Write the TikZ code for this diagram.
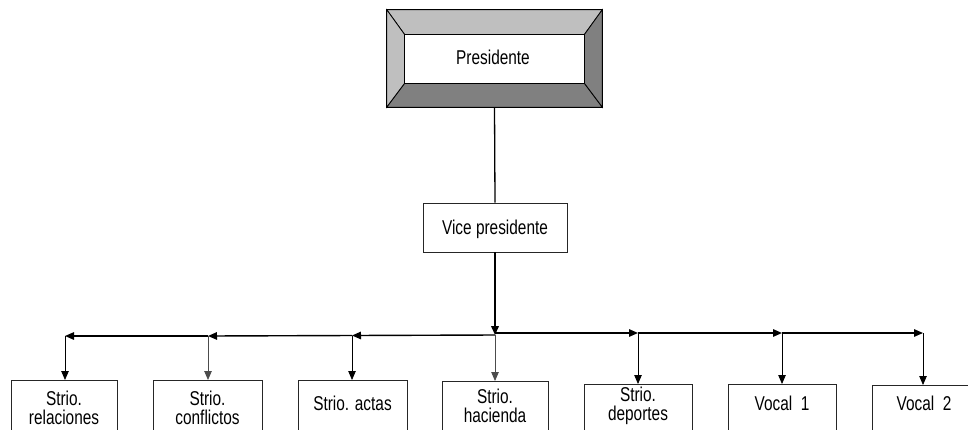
\documentclass[tikz,border=0pt]{standalone}
\usepackage{fontspec}
\setmainfont[FakeStretch=0.77]{Liberation Sans}
\usetikzlibrary{arrows.meta}
\begin{document}
\begin{tikzpicture}[x=1pt,y=-1pt,
  every node/.style={font=\fontsize{20}{19}\selectfont},
  box/.style={draw=black!85, line width=0.8pt, fill=white, inner sep=0pt},
  lbl/.style={inner sep=0pt, align=center},
  tip/.style={-{Triangle[length=9pt,width=7.5pt]}},
  hline/.style={line width=1.4pt},
  drop/.style={line width=0.8pt}]
\useasboundingbox (0,0) rectangle (968,429);
\clip (0,0) rectangle (968,429);
% Presidente bevelled box
\node[inner sep=0pt, minimum width=215pt, minimum height=97pt] (pres) at (494.5,58.5) {};
\node[inner sep=0pt, minimum width=179pt, minimum height=48pt] (presin) at (494.5,59) {};
\fill[gray!50!white, draw=black, line width=0.8pt] (pres.north west) -- (pres.north east) -- (presin.north east) -- (presin.north west) -- cycle;
\fill[gray!50!white, draw=black, line width=0.8pt] (pres.north west) -- (presin.north west) -- (presin.south west) -- (pres.south west) -- cycle;
\fill[black!50, draw=black, line width=0.8pt] (pres.north east) -- (pres.south east) -- (presin.south east) -- (presin.north east) -- cycle;
\fill[black!50, draw=black, line width=0.8pt] (pres.south west) -- (presin.south west) -- (presin.south east) -- (pres.south east) -- cycle;
\draw[black, line width=1pt] (pres.north west) rectangle (pres.south east);
\draw[black, line width=1pt, fill=white] (presin.north west) rectangle (presin.south east);
\node[lbl, anchor=base] (prest) at (493,64.5) {Presidente};
% Vice presidente
\node[box, minimum width=144pt, minimum height=49pt] (vp) at (495,227.5) {};
\node[lbl, anchor=base] (vpt) at (495,234) {Vice presidente};
% bottom boxes
\node[box, anchor=north, minimum width=106pt, minimum height=60pt] (b1) at (64,380) {};
\node[box, anchor=north, minimum width=109pt, minimum height=60pt] (b2) at (207.5,380) {};
\node[box, anchor=north, minimum width=109pt, minimum height=60pt] (b3) at (352.5,380) {};
\node[box, anchor=north, minimum width=106pt, minimum height=60pt] (b4) at (495,381) {};
\node[box, anchor=north, minimum width=108pt, minimum height=60pt] (b5) at (638,384) {};
\node[box, anchor=north, minimum width=108pt, minimum height=60pt] (b6) at (782,384) {};
\node[box, anchor=north, minimum width=104pt, minimum height=60pt] (b7) at (924,385) {};
\node[lbl, anchor=north] (t1) at (64,390.5) {Strio.\\relaciones};
\node[lbl, anchor=north] (t2) at (207.5,390.5) {Strio.\\conflictos};
\node[lbl, anchor=base] (t3) at (352.5,410) {Strio. actas};
\node[lbl, anchor=north] (t4) at (495,389) {Strio.\\hacienda};
\node[lbl, anchor=north] (t5) at (638,386.5) {Strio.\\deportes};
\node[lbl, anchor=base] (t6) at (782,410) {Vocal\ \ 1};
\node[lbl, anchor=base] (t7) at (924,410) {Vocal\ \ 2};
% junction coordinates
\coordinate (j) at (495,335);
\coordinate (l3) at (352,335.5);
\coordinate (l2) at (208,336);
\coordinate (l1) at (65,336);
\coordinate (jr) at (495,333);
\coordinate (r1) at (638,333);
\coordinate (r2) at (782,333);
\coordinate (r3) at (923,333);
% connectors
\draw[line width=1.3pt] (pres.south) -- (vp.north);
\draw[tip, line width=2pt] (vp.south) -- (j);
\draw[hline, tip] (j) -- (l3);
\draw[hline, tip] (l3) -- (l2);
\draw[hline, tip] (l2) -- (l1);
\draw[hline, tip] (jr) -- (r1);
\draw[hline, tip] (r1) -- (r2);
\draw[hline, tip] (r2) -- (r3);
\draw[drop, tip] (l1) -- (l1 |- b1.north);
\draw[drop, tip, black!70] (l2) -- (l2 |- b2.north);
\draw[drop, tip] (l3) -- (l3 |- b3.north);
\draw[drop, tip, black!70] (j) -- (b4.north);
\draw[drop, tip] (r1) -- (r1 |- b5.north);
\draw[drop, tip] (r2) -- (r2 |- b6.north);
\draw[drop, tip] (r3) -- (r3 |- b7.north);
\end{tikzpicture}
\end{document}
